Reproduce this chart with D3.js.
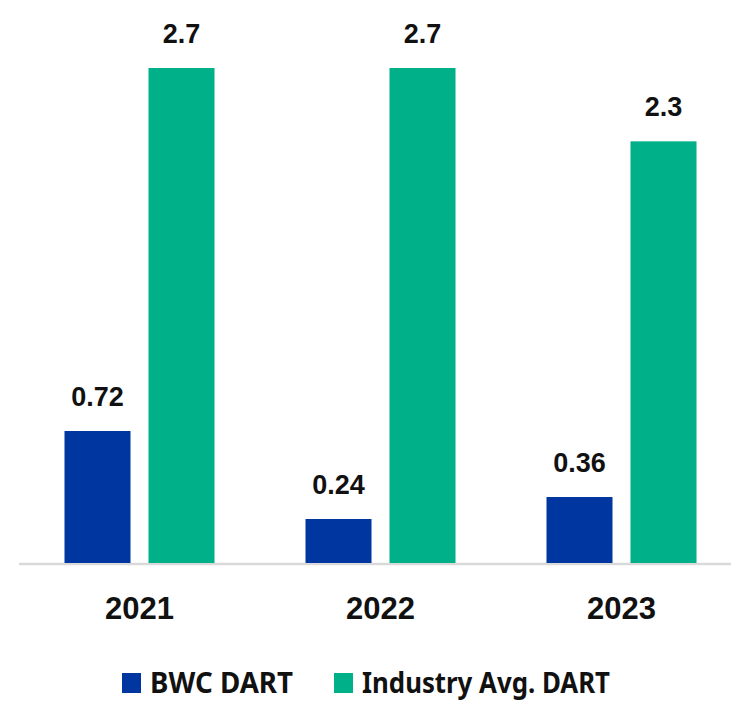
<!DOCTYPE html>
<html>
<head>
<meta charset="utf-8">
<script src="https://cdn.jsdelivr.net/npm/d3@7"></script>
<style>
  body { margin: 0; background: #fff; }
  svg { display: block; }
</style>
</head>
<body>
<svg width="731" height="703"></svg>
<script>
var years = ["2021", "2022", "2023"];
var seriesNames = ["BWC DART", "Industry Avg. DART"];
var bwc = [0.72, 0.24, 0.36];
var industry = [2.7, 2.7, 2.3];
var valueLabels = [["0.72", "0.24", "0.36"], ["2.7", "2.7", "2.3"]];
var colors = ["#0036a0", "#00b088"];

var svg = d3.select("svg");

var rows = years.map(function(y, i) {
    return { year: y, values: [bwc[i], industry[i]], labels: [valueLabels[0][i], valueLabels[1][i]] };
});

var x0 = d3.scaleBand()
    .domain(years)
    .range([19, 742])
    .paddingInner(0.3776)
    .paddingOuter(0.1888);

var x1 = d3.scaleBand()
    .domain([0, 1])
    .range([0, x0.bandwidth()])
    .paddingInner(0.2143);

var y = d3.scaleLinear()
    .domain([0, 2.7])
    .range([563, 68]);

// baseline
svg.append("line")
    .attr("x1", 19).attr("x2", 731)
    .attr("y1", 564).attr("y2", 564)
    .attr("stroke", "#d9d9d9")
    .attr("stroke-width", 2.5);

var group = svg.append("g")
    .selectAll("g")
    .data(rows)
    .enter().append("g")
    .attr("transform", function(d) { return "translate(" + x0(d.year) + ",0)"; });

var cells = group.selectAll("g")
    .data(function(d) { return d.values.map(function(v, k) { return { k: k, v: v, label: d.labels[k] }; }); })
    .enter().append("g");

cells.append("rect")
    .attr("x", function(d) { return x1(d.k); })
    .attr("width", x1.bandwidth())
    .attr("y", function(d) { return y(d.v); })
    .attr("height", function(d) { return y(0) - y(d.v); })
    .attr("fill", function(d) { return colors[d.k]; });

cells.append("text")
    .attr("x", function(d) { return x1(d.k) + x1.bandwidth() / 2; })
    .attr("y", function(d) { return y(d.v) - 25; })
    .attr("text-anchor", "middle")
    .attr("font-family", "Liberation Sans, Arial, sans-serif")
    .attr("font-weight", "bold")
    .attr("font-size", "27px")
    .attr("fill", "#111")
    .text(function(d) { return d.label; });

// year labels
svg.append("g")
    .selectAll("text")
    .data(years)
    .enter().append("text")
    .attr("x", function(d) { return x0(d) + x0.bandwidth() / 2; })
    .attr("y", 619)
    .attr("text-anchor", "middle")
    .attr("font-family", "Liberation Sans, Arial, sans-serif")
    .attr("font-weight", "bold")
    .attr("font-size", "31px")
    .attr("fill", "#111")
    .text(function(d) { return d; });

// legend (condensed face in the original, so squeeze to its widths)
var legendX = [122, 334];
var legendLen = [143, 248];
var legend = svg.append("g")
    .selectAll("g")
    .data(seriesNames)
    .enter().append("g")
    .attr("transform", function(d, i) { return "translate(" + legendX[i] + ",673)"; });

legend.append("rect")
    .attr("width", 19).attr("height", 20)
    .attr("fill", function(d, i) { return colors[i]; });

legend.append("text")
    .attr("x", 28)
    .attr("y", 20)
    .attr("font-family", "Noto Sans, sans-serif")
    .attr("font-weight", "bold")
    .attr("font-size", "28px")
    .attr("fill", "#111")
    .attr("textLength", function(d, i) { return legendLen[i]; })
    .attr("lengthAdjust", "spacingAndGlyphs")
    .text(function(d) { return d; });
</script>
</body>
</html>
